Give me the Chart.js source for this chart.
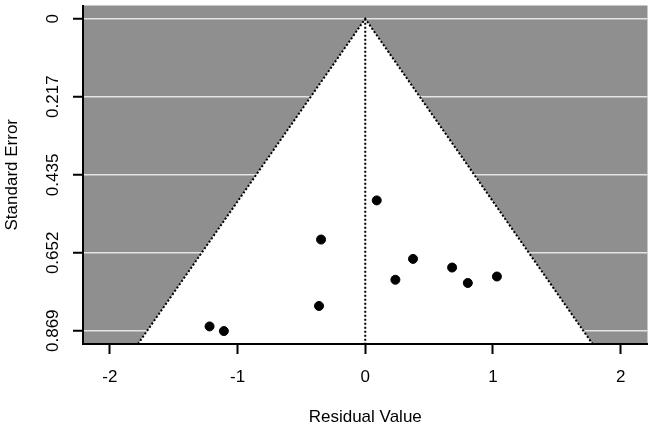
<!DOCTYPE html>
<html>
<head>
<meta charset="utf-8">
<title>Funnel plot</title>
<script src="https://cdn.jsdelivr.net/npm/chart.js@4.4.1/dist/chart.umd.min.js"></script>
<style>
    html, body { margin: 0; padding: 0; background: #fff; }
    #funnel { display: block; }
</style>
</head>
<body>
<canvas id="funnel" width="653" height="426"></canvas>
<script>
// Study residuals and their standard errors
const residuals = [0.09, -0.346, 0.374, 0.236, 0.68, 0.803, 1.031, -0.362, -1.219, -1.107];
const standardErrors = [0.506, 0.615, 0.669, 0.727, 0.693, 0.736, 0.718, 0.800, 0.857, 0.870];

// Pseudo confidence funnel: bottom-left, apex, bottom-right
const funnelX = [-1.78, 0, 1.78];
const funnelSE = [0.906, 0, 0.906];

// Dotted reference line at residual 0
const centerX = [0, 0];
const centerSE = [0, 0.906];

const residualTicks = [-2, -1, 0, 1, 2];
const residualTickLabels = ['-2', '-1', '0', '1', '2'];
const seTicks = [0, 0.217, 0.435, 0.652, 0.869];
const seTickLabels = ['0', '0.217', '0.435', '0.652', '0.869'];

const toPoints = (xs, ys) => xs.map((x, i) => ({ x: x, y: ys[i] }));

const FONT = 'Liberation Sans, Arial, sans-serif';

// Grey panel behind everything inside the plot area
const panelBackground = {
    id: 'panelBackground',
    beforeDraw(chart) {
        const { ctx, chartArea } = chart;
        ctx.save();
        ctx.fillStyle = '#8f8f8f';
        ctx.fillRect(chartArea.left, chartArea.top,
            chartArea.right - chartArea.left, chartArea.bottom - chartArea.top);
        ctx.restore();
    }
};

const ctx = document.getElementById('funnel').getContext('2d');
new Chart(ctx, {
    type: 'scatter',
    data: {
        datasets: [
            {
                label: 'Studies',
                data: toPoints(residuals, standardErrors),
                backgroundColor: '#000',
                borderColor: '#000',
                pointRadius: 4.5,
                pointHoverRadius: 4.5
            },
            {
                label: 'Centre',
                data: toPoints(centerX, centerSE),
                showLine: true,
                borderColor: '#000',
                borderWidth: 2,
                borderDash: [2, 2],
                pointRadius: 0,
                fill: false
            },
            {
                label: 'Funnel',
                data: toPoints(funnelX, funnelSE),
                showLine: true,
                borderColor: '#000',
                borderWidth: 2,
                borderDash: [2, 2],
                backgroundColor: '#fff',
                pointRadius: 0,
                fill: 'start'
            }
        ]
    },
    options: {
        responsive: false,
        animation: false,
        layout: { padding: { top: 2, right: 2, left: 0, bottom: 0 } },
        plugins: {
            legend: { display: false },
            tooltip: { enabled: false }
        },
        scales: {
            x: {
                type: 'linear',
                min: -2.21,
                max: 2.21,
                afterBuildTicks: axis => { axis.ticks = residualTicks.map(v => ({ value: v })); },
                afterFit: axis => {
                    axis.height = 82;
                    axis.paddingLeft = 0;
                    axis.paddingRight = 0;
                },
                ticks: {
                    color: '#000',
                    padding: 13,
                    font: { family: FONT, size: 17 },
                    callback: (v, i) => residualTickLabels[i]
                },
                grid: {
                    drawOnChartArea: false,
                    color: 'rgba(0,0,0,0)',
                    tickColor: '#000',
                    tickLength: 10,
                    tickWidth: 2
                },
                border: { display: true, color: '#000', width: 2, z: 1 },
                title: {
                    display: true,
                    text: 'Residual Value',
                    color: '#000',
                    font: { family: FONT, size: 17, lineHeight: 1 },
                    padding: { top: 0, bottom: 0 }
                }
            },
            y: {
                type: 'linear',
                reverse: true,
                min: -0.037,
                max: 0.906,
                afterBuildTicks: axis => { axis.ticks = seTicks.map(v => ({ value: v })); },
                afterFit: axis => {
                    axis.width = 83;
                    axis.paddingTop = 0;
                    axis.paddingBottom = 0;
                },
                ticks: {
                    color: '#000',
                    padding: -2,
                    minRotation: 90,
                    maxRotation: 90,
                    crossAlign: 'center',
                    font: { family: FONT, size: 17 },
                    callback: (v, i) => seTickLabels[i]
                },
                grid: {
                    color: '#e4e4e4',
                    lineWidth: 1.5,
                    tickColor: '#000',
                    tickLength: 10,
                    tickWidth: 2
                },
                border: { display: true, color: '#000', width: 2, z: 1 },
                title: {
                    display: true,
                    text: 'Standard Error',
                    color: '#000',
                    font: { family: FONT, size: 17, lineHeight: 1 },
                    padding: { top: 3.5, bottom: 0 }
                }
            }
        }
    },
    plugins: [panelBackground]
});
</script>
</body>
</html>
